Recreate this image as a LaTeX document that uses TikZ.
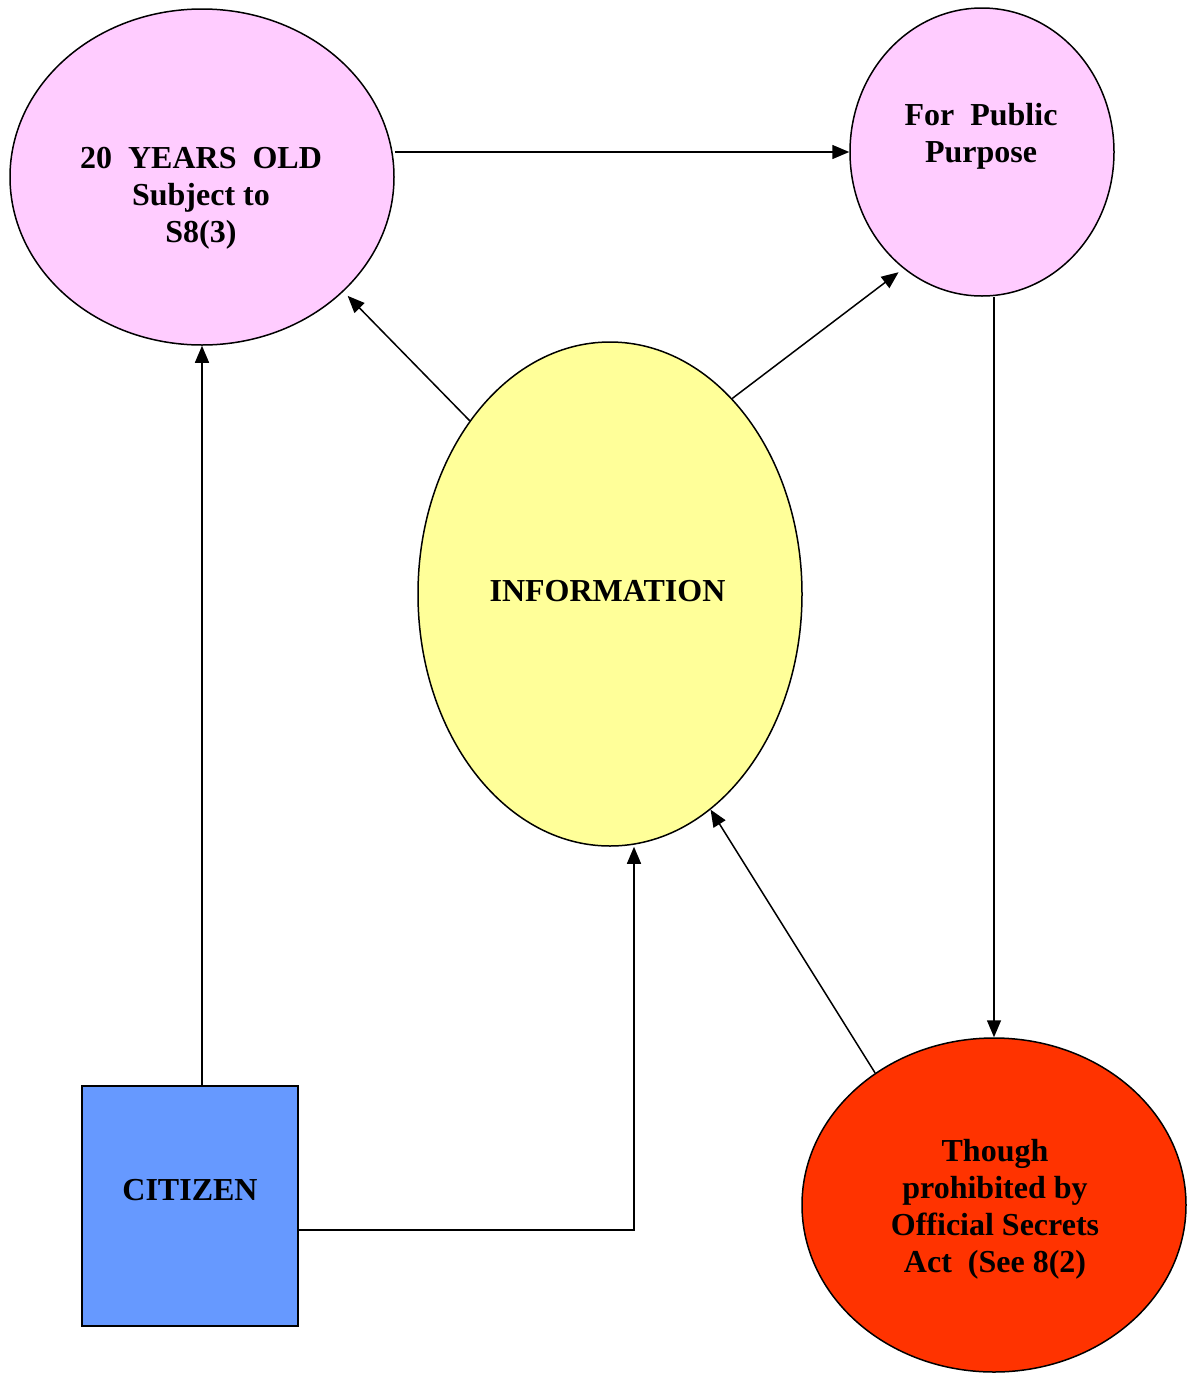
\documentclass[tikz,border=0pt]{standalone}
\usepackage{fontspec}
\setmainfont{Liberation Serif}
\usetikzlibrary{shapes.geometric,arrows.meta}
\definecolor{pinkfill}{HTML}{FFCCFF}
\definecolor{yellowfill}{HTML}{FFFF99}
\definecolor{redfill}{HTML}{FF3300}
\definecolor{bluefill}{HTML}{6699FF}
\tikzset{
  bubble/.style={ellipse,draw=black,line width=1.5pt,inner sep=0pt},
  boxnode/.style={rectangle,draw=black,line width=1.5pt,inner sep=0pt},
  txt/.style={inner sep=0pt,align=center,font=\fontsize{32}{37}\selectfont\bfseries},
  arr/.style={line width=1.5pt,-{Triangle[length=17pt,width=14pt]}}
}
\begin{document}
\begin{tikzpicture}[x=1pt,y=-1pt]
\useasboundingbox (0,0) rectangle (1189,1374);
% shapes
\node[bubble,fill=pinkfill,minimum width=384pt,minimum height=336pt] (e1) at (202,177) {};
\node[bubble,fill=pinkfill,minimum width=264pt,minimum height=288pt] (e2) at (982,152) {};
\node[bubble,fill=yellowfill,minimum width=384pt,minimum height=504pt] (e3) at (610,594) {};
\node[bubble,fill=redfill,minimum width=384pt,minimum height=334pt] (e4) at (994,1205) {};
\node[boxnode,fill=bluefill,minimum width=216pt,minimum height=240pt] (cit) at (190,1206) {};
% texts
\node[txt,anchor=north] (t1) at (201,147.5) {20~~YEARS~~OLD\\Subject to\\S8(3)};
\node[txt,anchor=north] (t2) at (981,103.5) {For~~Public\\Purpose};
\node[txt] (t3) at (607.5,591) {INFORMATION};
\node[txt,anchor=north] (t4) at (995,1139.5) {Though\\prohibited by\\Official Secrets\\Act~~(See 8(2)};
\node[txt] (t5) at (190,1190) {CITIZEN};
% connectors
\draw[arr] (e1.east |- e2.west) -- (e2.west);
\draw[arr,shorten >=6pt] (e3.129) -- (e1.-39.6);
\draw[arr,shorten >=6pt] (e3.58.2) -- (e2.-124.9);
\draw[arr] (e4.north |- e2.south) -- (e4.north);
\draw[arr] (e4.132.7) -- (e3.-65.9);
\draw[arr] (e1.south |- cit.north) -- (e1.south);
\draw[arr] ([yshift=-24pt]cit.east) -| ([xshift=24pt]e3.south);
\end{tikzpicture}
\end{document}
